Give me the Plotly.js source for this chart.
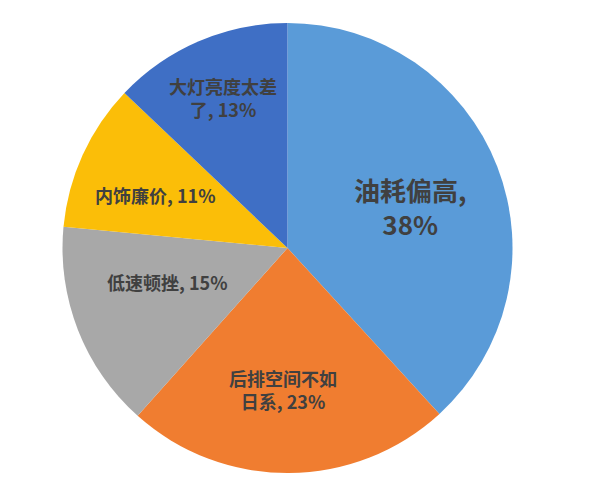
<!DOCTYPE html>
<html><head><meta charset="utf-8">
<script src="https://cdn.plot.ly/plotly-3.0.1.min.js"></script>
<style>html,body{margin:0;padding:0;background:#fff;}#chart{width:600px;height:493px;}</style>
</head><body><div id="chart"></div>
<script>
const categories = ["油耗偏高", "后排空间不如日系", "低速顿挫", "内饰廉价", "大灯亮度太差了"];
const values = [38.2, 23.4, 14.9, 10.6, 12.9];
const labelText = ["油耗偏高,<br>38%", "后排空间不如<br>日系, 23%", "低速顿挫, 15%", "内饰廉价, 11%", "大灯亮度太差<br>了, 13%"];
const colors = ["#5A9BD8", "#F07D30", "#A8A8A8", "#FBBE08", "#3F6FC5"];

// label placement (pixel centres in the 600x493 page) and sizes
const labelPos = [[410, 207], [283, 389], [167, 282], [155, 195], [223, 97]];
const labelSize = [26, 18, 18, 18, 18];

const W = 600, H = 493;
const trace = {
  type: "pie",
  labels: categories,
  values: values,
  textinfo: "none",
  sort: false,
  direction: "clockwise",
  rotation: 0,
  marker: {colors: colors, line: {width: 0}},
  hoverinfo: "none",
  domain: {x: [62/W, 513/W], y: [1 - 473/H, 1 - 23/H]}
};

const annotations = labelText.map((t, i) => ({
  text: t,
  xref: "paper", yref: "paper",
  x: labelPos[i][0] / W, y: 1 - labelPos[i][1] / H,
  xanchor: "center", yanchor: "middle",
  showarrow: false,
  align: "center",
  font: {family: "'Noto Sans CJK SC', sans-serif", size: labelSize[i], color: "#404040", weight: "bold"}
}));

Plotly.newPlot("chart", [trace], {
  width: W, height: H,
  margin: {l: 0, r: 0, t: 0, b: 0},
  showlegend: false,
  paper_bgcolor: "#fff",
  annotations: annotations
}, {displayModeBar: false, staticPlot: true});
</script></body></html>
